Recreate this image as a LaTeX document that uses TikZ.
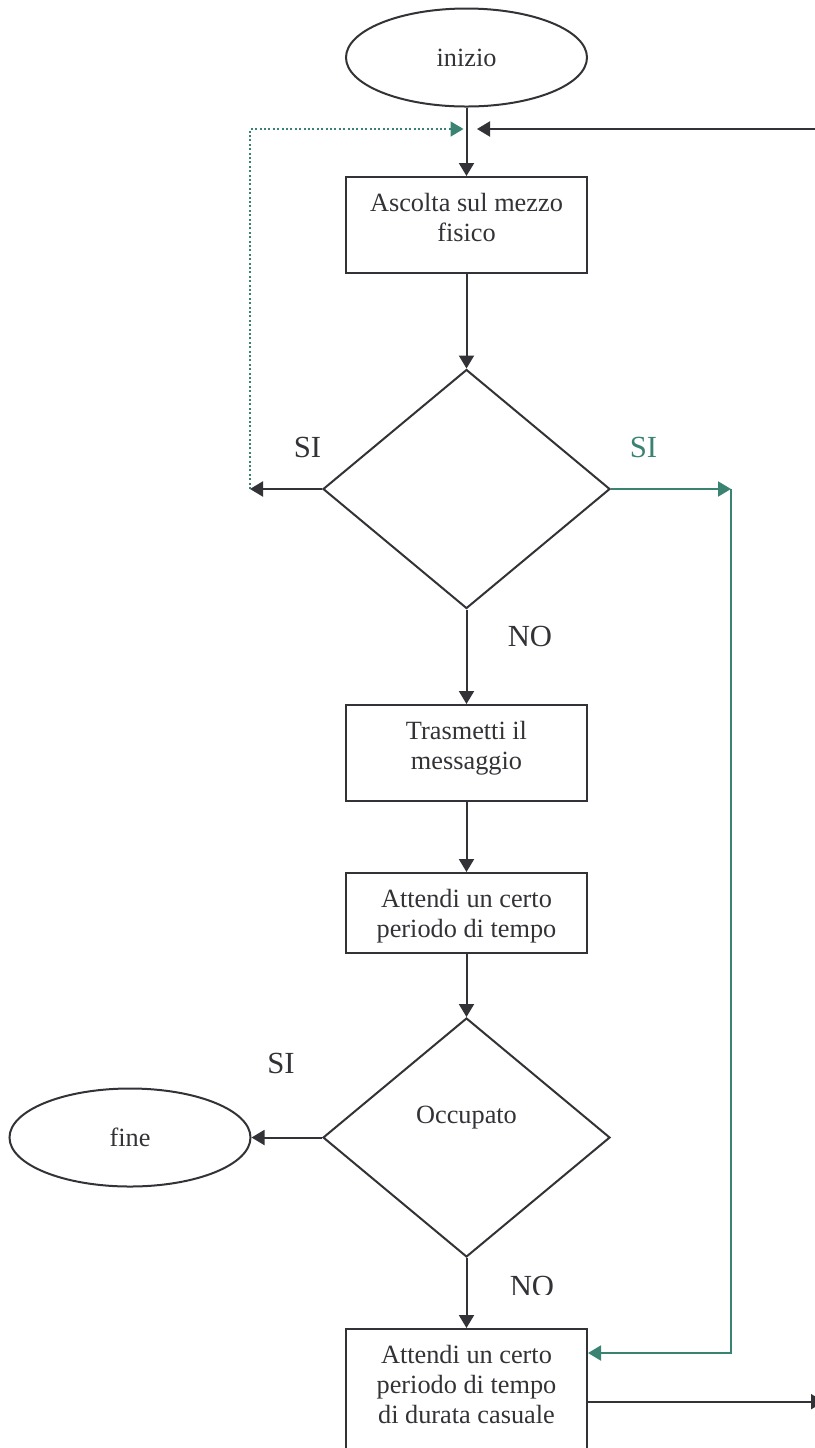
\documentclass[tikz,border=0pt]{standalone}
\usepackage{fontspec}
\setmainfont{Liberation Serif}
\usetikzlibrary{shapes.geometric,arrows.meta}
\definecolor{ink}{RGB}{50,50,55}
\definecolor{sea}{RGB}{58,130,114}
\begin{document}
\begin{tikzpicture}[x=0.5pt,y=-0.5pt,
  every node/.style={font=\fontsize{13.15}{15}\selectfont, text=ink},
  flow/.style={draw=ink, line width=1pt},
  seaflow/.style={draw=sea, line width=1pt},
  tip/.style={-{Triangle[length=6.5pt,width=7.5pt]}},
  terminal/.style={flow, ellipse, minimum width=120.5pt, minimum height=49pt, inner sep=0pt},
  stepbox/.style={flow, rectangle, minimum width=120.5pt, minimum height=48pt, inner sep=0pt},
  decision/.style={flow, diamond, minimum width=143.5pt, minimum height=119.5pt, inner sep=0pt},
  boxtext/.style={anchor=north, yshift=-8.5pt, align=center, inner sep=0pt},
  tag/.style={font=\fontsize{15.35}{18}\selectfont},
]
\useasboundingbox (0,0) rectangle (815,1448);
\clip (0,0) rectangle (815,1448);

% process blocks
\node[terminal] (start) at (466.5,57.5) {inizio};
\node[stepbox, label={[boxtext]north:Ascolta sul mezzo\\fisico}] (listen) at (466.5,225) {};
\node[decision] (busy) at (466.5,489) {};
\node[stepbox, label={[boxtext]north:Trasmetti il\\messaggio}] (send) at (466.5,753) {};
\node[stepbox, minimum height=40pt, label={[boxtext]north:Attendi un certo\\periodo di tempo}] (wait) at (466.5,913) {};
\node[decision] (occupied) at (466.5,1137.5) {};
\node[anchor=base] (occtext) at (466.5,1123.3) {Occupato};
\node[terminal] (stop) at (130,1137.5) {fine};
\node[stepbox, minimum height=65pt, label={[boxtext]north:Attendi un certo\\periodo di tempo\\di durata casuale}] (backoff) at (466.5,1394) {};

% junction points
\coordinate (loopL) at (250,489);
\coordinate (loopTip) at (463.5,129);
\coordinate (retTip) at (477,129);
\coordinate (retIn) at (830,129);
\coordinate (branchR) at (731,489);
\coordinate (branchLow) at (731,1353);
\coordinate (outR) at (824,1401.7);

% main flow
\draw[flow,tip] (start.south) -- (listen.north);
\draw[flow,tip] (listen.south) -- (busy.north);
\draw[flow,tip] (busy.south) -- (send.north);
\draw[flow,tip] (send.south) -- (wait.north);
\draw[flow,tip] (wait.south) -- (occupied.north);
\draw[flow,tip] (occupied.south) -- (backoff.north);
\draw[flow,tip] (occupied.west) -- (stop.east);

% loop back to listening
\draw[flow,tip] (busy.west) -- (loopL);
\draw[draw=sea, line width=0.9pt, dash pattern=on 1pt off 1.2pt, tip] (loopL) |- (loopTip);
\draw[flow,tip] (retIn) -- (retTip);

% busy branch to random wait
\draw[seaflow,tip] (busy.east) -- (branchR);
\draw[seaflow,tip] (branchR) -- (branchLow) -- (backoff.east |- branchLow);
\draw[flow,tip] (backoff.east |- outR) -- (outR);

% branch labels
\node[tag] (yesL) at (307.5,447) {SI};
\node[tag, text=sea] (yesR) at (643.5,447) {SI};
\node[tag] (noA) at (530,636) {NO};
\node[tag] (yesB) at (281,1063) {SI};
\begin{scope}
  \clip (480,1250) rectangle (600,1294);
  \node[tag] (noB) at (532,1286) {NO};
\end{scope}
\end{tikzpicture}
\end{document}
